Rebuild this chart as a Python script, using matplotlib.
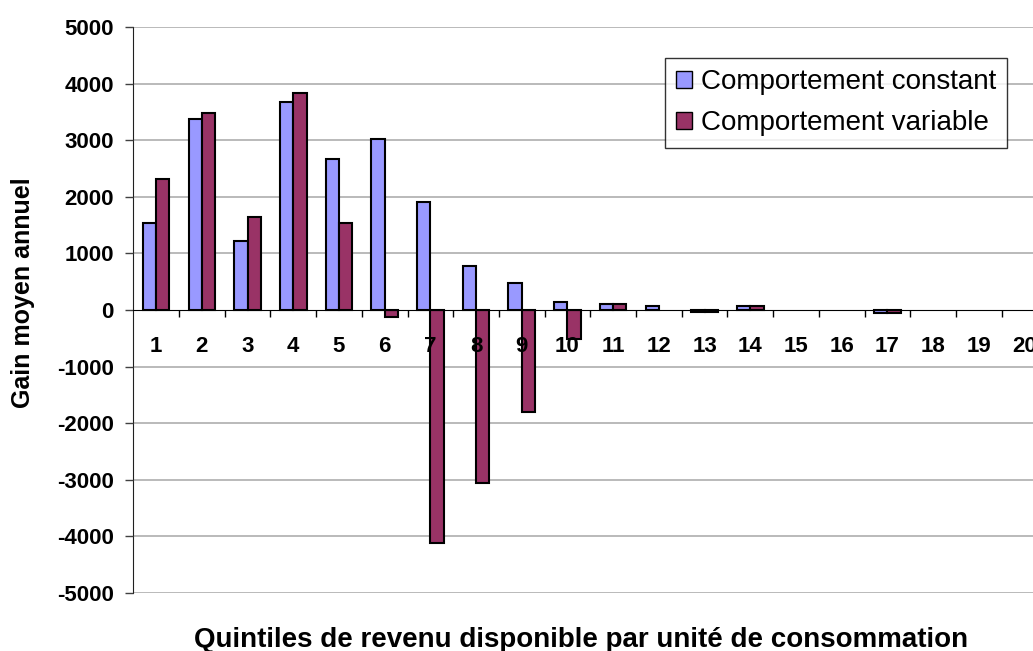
import numpy as np
import matplotlib.pyplot as plt
from matplotlib.ticker import FixedLocator

# =========================
# Data
# =========================
quantiles = [str(i) for i in range(1, 21)]
constant = [1545, 3380, 1220, 3670, 2670, 3020, 1900, 775, 485, 135,
            100, 70, -30, 70, 0, 0, -60, 0, 0, 0]
variable = [2320, 3480, 1645, 3830, 1545, -130, -4120, -3050, -1800, -515,
            100, 0, -30, 70, 0, 0, -60, 0, 0, 0]
labels = ["Comportement constant", "Comportement variable"]
yticks = list(range(-5000, 5001, 1000))

C_CONST = "#9999FF"
C_VAR = "#993366"

plt.rcParams["font.family"] = ["Liberation Sans", "DejaVu Sans"]

fig = plt.figure(figsize=(10.33, 6.51), dpi=100)
ax = fig.add_axes([133.3 / 1033, 58 / 651, 914 / 1033, 566 / 651])
ax.set_axisbelow(False)  # tick labels drawn over the bars

x = np.arange(1, len(quantiles) + 1)
w = 0.29
# zero values leave no visible bar
edge_c = ["black" if v != 0 else "none" for v in constant]
edge_v = ["black" if v != 0 else "none" for v in variable]
ax.bar(x - w / 2, constant, w, color=C_CONST, edgecolor=edge_c,
       linewidth=1.5, label=labels[0], zorder=2)
ax.bar(x + w / 2, variable, w, color=C_VAR, edgecolor=edge_v,
       linewidth=1.5, label=labels[1], zorder=2)

# gridlines behind the bars
for v in yticks:
    if v != 0:
        ax.axhline(v, color="#b4b4b4", linewidth=1.3, zorder=0)

ax.set_xlim(0.5, len(quantiles) + 0.5)
ax.set_ylim(-5000, 5000)
ax.set_yticks(yticks)
ax.set_yticklabels([str(v) for v in yticks], fontsize=16, fontweight="bold")
ax.tick_params(axis="y", length=6, width=1, color="#404040", pad=8)

# x axis drawn at zero
ax.spines["bottom"].set_position(("data", 0))
ax.spines["bottom"].set_zorder(4)
ax.spines["top"].set_visible(False)
ax.spines["right"].set_visible(False)
ax.spines["left"].set_color("#202020")
ax.set_xticks(x)
ax.set_xticklabels(quantiles, fontsize=16, fontweight="bold")
ax.tick_params(axis="x", which="major", length=0, pad=19)
ax.xaxis.set_minor_locator(FixedLocator(np.arange(1.5, len(quantiles), 1.0)))
ax.tick_params(axis="x", which="minor", length=5, width=1, direction="out")

fig.text(23 / 1033, 1 - 292.5 / 651, "Gain moyen annuel", rotation=90,
         ha="center", va="center", fontsize=18, fontweight="bold")
fig.text(581.5 / 1033, 1 - 647 / 651,
         "Quintiles de revenu disponible par unité de consommation",
         ha="center", va="baseline", fontsize=20, fontweight="bold")

leg = ax.legend(loc="upper right", bbox_to_anchor=(1007 / 1033, 1 - 58 / 651),
                bbox_transform=fig.transFigure, borderaxespad=0,
                fontsize=20, frameon=True, fancybox=False,
                handlelength=0.6, handleheight=0.6, handletextpad=0.3,
                labelspacing=0.55, borderpad=0.4)
leg.set_zorder(5)
leg.get_frame().set_edgecolor("black")
leg.get_frame().set_linewidth(1.0)
for h in leg.legend_handles:
    h.set_linewidth(1.0)
    h.set_edgecolor("black")

fig.savefig("out.png", dpi=100)
